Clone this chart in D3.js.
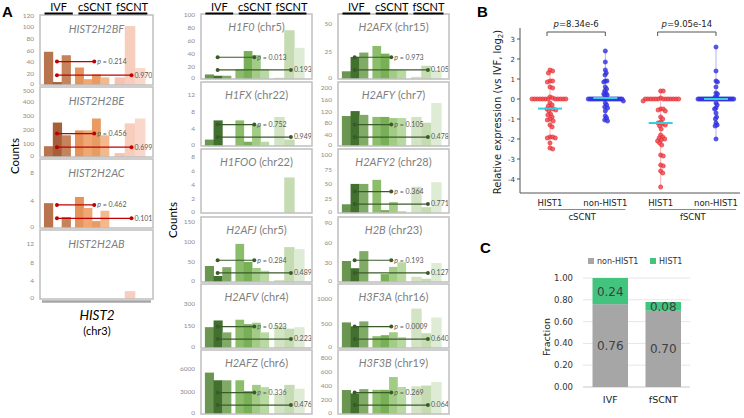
<!DOCTYPE html>
<html><head><meta charset="utf-8">
<script src="https://cdn.jsdelivr.net/npm/d3@7"></script>
<style>body{margin:0;background:#fff}</style></head>
<body><svg id="c" width="744" height="418"></svg>
<script>
// ---------- Panel A data ----------
const groups = ["IVF", "cSCNT", "fSCNT"];
const leftGenes = ["HIST2H2BF", "HIST2H2BE", "HIST2H2AC", "HIST2H2AB"];
const leftMax = [120, 500, 10, 15];
const leftTicks = [[0,20,40,60,80,100,120],[0,100,200,300,400,500],[0,4,8],[0,4,8,12]];
const leftIVF = [[57,5,51],[77,246,155],[3.6,0,1.6],[0,0,0]];
const leftCSCNT = [[30,10,18,13],[190,190,275,155],[4.5,2.9,1.0,2.5],[0,0,0,0]];
const leftFSCNT = [[13,101,29],[28,240,275],[0,0,0],[0,1.7,0]];
const leftPUp = ["0.214","0.456","0.462",""];
const leftPLow = ["0.970","0.699","0.101",""];

const midGenes = ["H1F0","H1FX","H1FOO","H2AFJ","H2AFV","H2AFZ"];
const midChr = ["chr5","chr22","chr22","chr5","chr4","chr6"];
const midMax = [100, 15, 9, 162, 430, 8350];
const midTicks = [[0,20,40,60,80,100],[0,4,8,12],[0,2,4,6,8],[0,50,100,150],[0,150,300],[0,3000,6000]];
const midIVF = [[7,5,5],[1.5,6,0],[0,0,0],[40,15,37],[140,185,105],[5400,4400,4400]];
const midCSCNT = [[15,43,37,15],[6,1,5,1],[0,0,0,0],[95,50,35,28],[190,160,170,105],[4400,3000,3800,3500]];
const midFSCNT = [[2,75,48],[6.8,1.5,0],[0,5,0],[5,87,82],[150,130,140],[2500,3800,3300]];
const midPUp = ["0.013","0.752","","0.284","0.523","0.336"];
const midPLow = ["0.193","0.949","","0.489","0.223","0.476"];

const rightGenes = ["H2AFX","H2AFY","H2AFY2","H2B","H3F3A","H3F3B"];
const rightChr = ["chr15","chr7","chr28","chr23","chr16","chr19"];
const rightMax = [59, 220, 110, 99, 1300, 900];
const rightTicks = [[0,25,50],[0,40,80,120,160,200],[0,25,50,75,100],[0,30,60,90],[0,500,1000],[0,200,400,600,800]];
const rightIVF = [[7,20,24],[103,120,107],[15,50,50],[32,21,47],[520,440,540],[337,290,350]];
const rightCSCNT = [[30,23,8,8],[100,100,96,96],[57,5,19,3],[0,12,23,30],[240,260,320,220],[340,340,520,380]];
const rightFSCNT = [[2,12,8],[100,80,148],[45,10,53],[8,5,29],[800,300,620],[390,400,450]];
const rightPUp = ["0.973","0.105","0.364","0.193","0.0009","0.269"];
const rightPLow = ["0.105","0.478","0.771","0.127","0.640","0.064"];

// ---------- Panel B data ----------
const bCategories = ["HIST1 c","non-HIST1 c","HIST1 f","non-HIST1 f"];
const bLabels = ["HIST1","non-HIST1","HIST1","non-HIST1"];
const bGroups = ["cSCNT","fSCNT"];
const bPvalues = ["8.34e-6","9.05e-14"];
const cscntHist1 = [1.45,1.4,1.3,0.9,0.9,0.85,0.6,0.55,0.1,0.05,0,0,0,0,0,0,0,0,0,0,0,0,-0.2,-0.3,-0.35,-0.45,-0.5,-0.5,-0.55,-0.6,-0.75,-0.8,-0.9,-1.0,-1.05,-1.1,-1.3,-1.4,-1.9,-1.9,-1.95,-1.95,-2.2,-2.45,-2.5];
const cscntNon = [2.4,1.85,1.45,1.3,1.2,0.9,0.9,0.85,0.6,0.5,0.4,0.3,0.25,0.2,0.15,0,0,0,0,0,0,0,0,0,0,0,0,0,0,0,0,0,0,0,0,0,0,-0.1,-0.2,-0.3,-0.4,-0.45,-0.6,-0.85,-0.95,-1.05,-1.1];
const fscntHist1 = [0.4,0.4,0.05,0,0,0,0,0,0,0,0,0,0,0,0,0,-0.1,-0.5,-0.5,-0.55,-0.6,-0.9,-1.0,-1.15,-1.2,-1.25,-1.3,-1.35,-1.5,-1.8,-1.9,-1.95,-2.0,-2.05,-2.1,-2.2,-2.3,-2.8,-2.85,-3.3,-3.35,-3.6,-3.7,-4.4];
const fscntNon = [2.6,1.4,0.9,0.85,0.6,0.3,0.25,0.1,0.1,0,0,0,0,0,0,0,0,0,0,0,0,0,0,0,0,0,0,0,0,0,0,0,0,-0.2,-0.3,-0.45,-0.5,-0.7,-0.9,-1.0,-1.2,-1.3,-1.35,-2.0];
const bMeans = [-0.48, 0.05, -1.2, 0.0];
const bTicks = [-4,-3,-2,-1,0,1,2,3];

// ---------- Panel C data ----------
const cCategories = ["IVF","fSCNT"];
const cNonHist1 = [0.76, 0.70];
const cHist1 = [0.24, 0.08];
const cTicks = [0,0.2,0.4,0.6,0.8,1.0];

// ====================================================
const svg = d3.select("#c");
svg.append("rect").attr("width",744).attr("height",418).attr("fill","#fff");
const FA = "Lato, 'Open Sans', sans-serif";
const FB = "'DejaVu Sans', Verdana, sans-serif";

const brown = [["#b8744c","#a55f3a","#c4835a"],["#e4935a","#efa873","#e89c64","#f3b88c"],["#f4c3b1","#f7cdbd","#f9d8cb"]];
const green = [["#6b9652","#42702f","#80ab66"],["#8bbd6b","#78b058","#a2cc86","#b8d9a1"],["#d2e4c3","#c5dcb2","#dfecd5"]];

const midBoxes = [[14,79],[82,146],[149,213],[217,282],[284,348],[350,414]];
const cols = [
  {x0:40,x1:153,boxes:[[15,85],[87,157],[159,228],[230,299]],genes:leftGenes,chr:null,max:leftMax,ticks:leftTicks,
   data:[leftIVF,leftCSCNT,leftFSCNT],pu:leftPUp,pl:leftPLow,pal:brown,lc:"#c00000"},
  {x0:201,x1:312,boxes:midBoxes,genes:midGenes,chr:midChr,max:midMax,ticks:midTicks,
   data:[midIVF,midCSCNT,midFSCNT],pu:midPUp,pl:midPLow,pal:green,lc:"#3a5a2a"},
  {x0:338,x1:449,boxes:midBoxes,genes:rightGenes,chr:rightChr,max:rightMax,ticks:rightTicks,
   data:[rightIVF,rightCSCNT,rightFSCNT],pu:rightPUp,pl:rightPLow,pal:green,lc:"#3a5a2a"}
];
const groupSpan = [[0.035,0.27],[0.31,0.61],[0.66,0.93]];
const headSpan = [[0.04,0.29],[0.34,0.63],[0.68,0.95]];
const LX = {start:0.15, up:0.48, low:0.81};

function drawPanel(col, i){
  const [top,bot] = col.boxes[i];
  const x0=col.x0, W=col.x1-col.x0;
  const y = d3.scaleLinear().domain([0,col.max[i]]).range([bot,top]);
  const g = svg.append("g");
  col.data.forEach((arr,gi)=>{
    const vals = arr[i];
    const xs = d3.scaleBand().domain(d3.range(vals.length))
      .range([x0+groupSpan[gi][0]*W, x0+groupSpan[gi][1]*W]).padding(0);
    g.selectAll(null).data(vals).join("rect")
      .attr("x",(d,j)=>xs(j)).attr("width",xs.bandwidth()+0.4)
      .attr("y",d=>y(d)).attr("height",d=>bot-y(d))
      .attr("fill",(d,j)=>col.pal[gi][j]);
  });
  g.selectAll(null).data(col.ticks[i]).join("text")
    .attr("x",x0-6).attr("y",d=>y(d)+(d===0 ? 1 : (i>0 && d===col.max[i] ? 5.5 : 2.5))).attr("text-anchor","end")
    .attr("font-family",FA).attr("font-size",6.5).attr("fill","#8c8c8c").text(d=>d);
  const H = bot-top;
  const lines = [];
  if (col.pu[i]) lines.push({yy:bot-0.335*H, x2:LX.up, lab:col.pu[i], p:true});
  if (col.pl[i]) lines.push({yy:bot-0.14*H, x2:LX.low, lab:col.pl[i], p:false});
  lines.forEach(l=>{
    const xa = x0+LX.start*W, xb = x0+l.x2*W;
    g.append("line").attr("x1",xa).attr("x2",xb).attr("y1",l.yy).attr("y2",l.yy)
      .attr("stroke",col.lc).attr("stroke-width",1.2);
    [xa,xb].forEach(xx=>g.append("circle").attr("cx",xx).attr("cy",l.yy).attr("r",2).attr("fill",col.lc));
    const t = g.append("text").attr("x",xb+3).attr("y",l.yy+2.4)
      .attr("font-family",FA).attr("font-size",7).attr("fill","#595959");
    if (l.p){ t.append("tspan").attr("font-style","italic").text("p"); t.append("tspan").text(" = "+l.lab); }
    else t.text(l.lab);
  });
  g.append("rect").attr("x",x0).attr("y",top).attr("width",W).attr("height",H)
    .attr("fill","none").attr("stroke","#bfbfbf").attr("stroke-width",1.5);
  const tt = g.append("text").attr("x",x0+W/2).attr("y",top+(col.chr?17:18)).attr("text-anchor","middle")
    .attr("font-family",FA).attr("font-size",11).attr("fill","#7f7f7f");
  tt.append("tspan").attr("font-style","italic").text(col.genes[i]);
  if (col.chr) tt.append("tspan").text(" ("+col.chr[i]+")");
}

cols.forEach(col=>{
  col.genes.forEach((_,i)=>drawPanel(col,i));
  const W = col.x1-col.x0;
  groups.forEach((gname,gi)=>{
    const a = col.x0+headSpan[gi][0]*W, b = col.x0+headSpan[gi][1]*W;
    svg.append("line").attr("x1",a).attr("x2",b).attr("y1",13.5).attr("y2",13.5).attr("stroke","#000").attr("stroke-width",2);
    svg.append("text").attr("x",(a+b)/2).attr("y",11).attr("text-anchor","middle")
      .attr("font-family",FA).attr("font-size",11).attr("fill","#000").text(gname);
  });
});

// Counts labels
[[15,156],[173,220]].forEach(([x,y])=>{
  svg.append("text").attr("transform",`translate(${x},${y}) rotate(-90)`).attr("text-anchor","middle")
    .attr("dy","0.35em").attr("font-family",FA).attr("font-size",11.5).attr("fill","#000").text("Counts");
});
svg.append("line").attr("x1",42).attr("x2",151).attr("y1",301.5).attr("y2",301.5).attr("stroke","#a6a6a6").attr("stroke-width",2.5);
svg.append("text").attr("x",97).attr("y",320).attr("text-anchor","middle").attr("font-family",FA)
  .attr("font-size",13.5).attr("font-style","italic").text("HIST2");
svg.append("text").attr("x",97).attr("y",335).attr("text-anchor","middle").attr("font-family",FA)
  .attr("font-size",11).text("(chr3)");

// Panel letters
[["A",2,17],["B",477,17],["C",480,253]].forEach(([t,x,y])=>{
  svg.append("text").attr("x",x).attr("y",y).attr("font-family","Arial, 'Liberation Sans', sans-serif")
    .attr("font-weight","bold").attr("font-size",15).text(t);
});

// ---------- Panel B ----------
const by = d3.scaleLinear().domain([-4.7,3.5]).range([193,29]);
const bx = d3.scalePoint().domain(bCategories).range([550,716]);
const bg = svg.append("g");
bg.append("line").attr("x1",520).attr("x2",520).attr("y1",28).attr("y2",193).attr("stroke","#555");
bg.append("line").attr("x1",520).attr("x2",740).attr("y1",193).attr("y2",193).attr("stroke","#555");
bTicks.forEach(t=>{
  bg.append("line").attr("x1",517).attr("x2",520).attr("y1",by(t)).attr("y2",by(t)).attr("stroke","#555");
  bg.append("text").attr("x",515).attr("y",by(t)+2.5).attr("text-anchor","end")
    .attr("font-family",FB).attr("font-size",7).attr("fill","#333").text(t);
});
bg.append("text").attr("transform","translate(501,112) rotate(-90)").attr("text-anchor","middle")
  .attr("font-family",FB).attr("font-size",10).attr("fill","#222")
  .call(t=>{t.append("tspan").text("Relative expression (vs IVF, log");
           t.append("tspan").attr("font-size",7).attr("dy",2).text("2");
           t.append("tspan").attr("dy",-2).text(")");});
bCategories.forEach((c,i)=>{
  bg.append("text").attr("x",bx(c)).attr("y",205.5).attr("text-anchor","middle")
    .attr("font-family",FB).attr("font-size",8.5).attr("fill","#222").text(bLabels[i]);
});
bGroups.forEach((gname,gi)=>{
  const a = bx(bCategories[gi*2])-11, b = bx(bCategories[gi*2+1])+20;
  bg.append("line").attr("x1",a).attr("x2",b).attr("y1",209.5).attr("y2",209.5).attr("stroke","#888");
  bg.append("text").attr("x",(a+b)/2).attr("y",219.5).attr("text-anchor","middle")
    .attr("font-family",FB).attr("font-size",8.5).attr("fill","#222").text(gname);
  const c1 = bx(bCategories[gi*2])-3, c2 = bx(bCategories[gi*2+1]);
  bg.append("path").attr("d",`M${c1},36V32H${c2}V36`).attr("fill","none").attr("stroke","#555");
  const pt = bg.append("text").attr("x",(c1+c2)/2).attr("y",27).attr("text-anchor","middle")
    .attr("font-family",FB).attr("font-size",8.5).attr("fill","#222");
  pt.append("tspan").attr("font-style","italic").text("p");
  pt.append("tspan").text("="+bPvalues[gi]);
});
function swarm(values, d, maxHalf){
  const pts = values.map(v=>({v, y:by(v)})).sort((a,b)=>a.y-b.y);
  const placed = [];
  pts.forEach(p=>{
    for (let k=0;k<400;k++){
      const off = (k%2===1?1:-1)*Math.ceil(k/2)*1;
      if (placed.every(q=>(q.x-off)**2+(q.y-p.y)**2 >= d*d)){ p.x=off; break; }
    }
    placed.push(p);
  });
  const m = d3.max(placed,p=>Math.abs(p.x));
  const s = m>maxHalf ? maxHalf/m : 1;
  placed.forEach(p=>p.x*=s);
  return placed;
}
const bSeries = [cscntHist1, cscntNon, fscntHist1, fscntNon];
bSeries.forEach((vals,i)=>{
  const red = i%2===0;
  const cx = bx(bCategories[i]);
  const col = red ? "#e3262e" : "#2a2ad8";
  bg.append("line").attr("x1",cx).attr("x2",cx).attr("y1",by(d3.max(vals))).attr("y2",by(d3.min(vals)))
    .attr("stroke",col).attr("stroke-opacity",0.45).attr("stroke-width",0.8);
  const pts = swarm(vals, 4.2, 18);
  bg.selectAll(null).data(pts).join("circle")
    .attr("cx",p=>cx+p.x).attr("cy",p=>p.y).attr("r",2.1)
    .attr("fill",red?"#f04a50":"#3a3ae6").attr("fill-opacity",0.85)
    .attr("stroke",col).attr("stroke-width",0.6);
  bg.append("line").attr("x1",cx-12).attr("x2",cx+12).attr("y1",by(bMeans[i])).attr("y2",by(bMeans[i]))
    .attr("stroke","#35d0e0").attr("stroke-width",2);
});

// ---------- Panel C ----------
const cy = d3.scaleLinear().domain([0,1]).range([387,278]);
const cx = d3.scaleBand().domain(cCategories).range([583.5,690]).paddingInner(0.33).paddingOuter(0.17);
const cg = svg.append("g");
cTicks.forEach(t=>{
  cg.append("line").attr("x1",583).attr("x2",690).attr("y1",cy(t)).attr("y2",cy(t))
    .attr("stroke", t===0?"#c8c8c8":"#e6e6e6").attr("stroke-width",1);
  cg.append("text").attr("x",573).attr("y",cy(t)+3).attr("text-anchor","end")
    .attr("font-family",FB).attr("font-size",8.5).attr("fill","#333").text(t.toFixed(2));
});
cCategories.forEach((c,i)=>{
  const x = cx(c), w = cx.bandwidth();
  cg.append("rect").attr("x",x).attr("width",w).attr("y",cy(cNonHist1[i])).attr("height",cy(0)-cy(cNonHist1[i])).attr("fill","#a6a6a6");
  cg.append("rect").attr("x",x).attr("width",w).attr("y",cy(cNonHist1[i]+cHist1[i])).attr("height",cy(0)-cy(cHist1[i])).attr("fill","#43c47e");
  cg.append("text").attr("x",x+w/2).attr("y",cy(cNonHist1[i]/2)+4.5).attr("text-anchor","middle")
    .attr("font-family",FB).attr("font-size",12).attr("fill","#404040").text(cNonHist1[i].toFixed(2));
  cg.append("text").attr("x",x+w/2).attr("y",cy(cNonHist1[i]+cHist1[i]/2)+4.5).attr("text-anchor","middle")
    .attr("font-family",FB).attr("font-size",12).attr("fill","#404040").text(cHist1[i].toFixed(2));
  cg.append("text").attr("x",x+w/2).attr("y",403).attr("text-anchor","middle")
    .attr("font-family",FB).attr("font-size",9.5).attr("fill","#222").text(c);
});
cg.append("text").attr("transform","translate(547,337) rotate(-90)").attr("text-anchor","middle").attr("dy","0.35em")
  .attr("font-family",FB).attr("font-size",9.5).attr("fill","#222").text("Fraction");
[["non-HIST1","#a6a6a6",588],["HIST1","#43c47e",650]].forEach(([t,c,x])=>{
  cg.append("rect").attr("x",x).attr("y",258).attr("width",6).attr("height",6).attr("fill",c);
  cg.append("text").attr("x",x+9).attr("y",264).attr("font-family",FB).attr("font-size",8).attr("fill","#333").text(t);
});
</script></body></html>
